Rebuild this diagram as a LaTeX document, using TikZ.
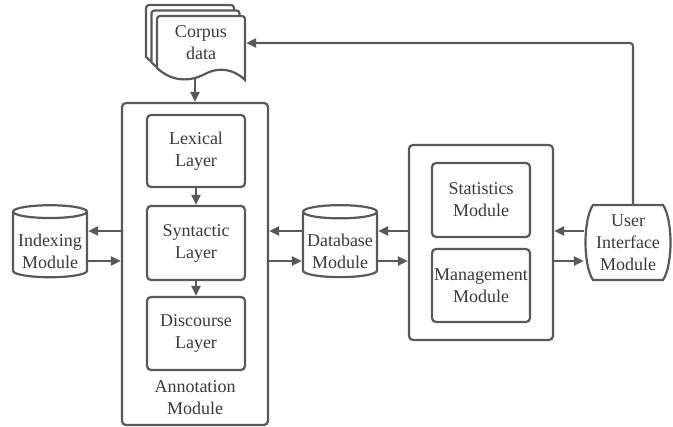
\documentclass[tikz,border=0pt]{standalone}
\usepackage{fontspec}
\setmainfont{Liberation Serif}
\usetikzlibrary{arrows.meta,shapes.geometric,backgrounds}
\definecolor{linegray}{HTML}{595959}
\definecolor{textgray}{HTML}{3A3A3A}
\def\ux{1pt}
\def\uy{-1pt}

\begin{document}
\begin{tikzpicture}[x=\ux,y=\uy, line width=2.2pt, font=\fontsize{18}{22}\selectfont,
    box/.style={draw=linegray, rounded corners=4pt, align=center, text=textgray, inner sep=0pt},
    db/.style={cylinder, shape border rotate=90, aspect=0.2, draw=linegray, fill=white, align=center,
      text=textgray, minimum width=74pt, minimum height=72pt, inner sep=0pt},
    lbl/.style={align=center, text=textgray, inner sep=0pt},
    arr/.style={draw=linegray, line width=2.2pt, -{Triangle[length=10pt,width=9pt]}}]
    \useasboundingbox (0,0) rectangle (673,427);

    % corpus documents
    \foreach \d in {11,5.5,0}{
      \draw[linegray, fill=white, shift={(-\d,-\d)}] (157,68) [rounded corners=3pt] -- (157,16) -- (245,16)
        [sharp corners] -- (245,80) .. controls (235,70) and (220,66) .. (205,74)
        .. controls (190,82) and (172,82) .. (157,68) -- cycle;
    }
    \node[lbl, minimum width=88pt, minimum height=60pt] (corpus) at (201,43) {Corpus\\data};

    % annotation module
    \node[box, minimum width=146pt, minimum height=322pt] (annot) at (195,264) {};
    \node[lbl] (annottxt) at (195,398) {Annotation\\Module};
    \node[box, minimum width=98pt, minimum height=72pt] (lex) at (196,151) {Lexical\\Layer};
    \node[box, minimum width=98pt, minimum height=74pt] (syn) at (196,243) {Syntactic\\Layer};
    \node[box, minimum width=98pt, minimum height=73pt] (dis) at (196,333.5) {Discourse\\Layer};

    % databases
    \node[db] (idx) at (50,245) {\rule{0pt}{26pt}Indexing\\Module};
    \node[db] (dbm) at (340,245) {\rule{0pt}{26pt}Database\\Module};

    % right side
    \node[box, minimum width=144pt, minimum height=195pt] (mbox) at (481,242.5) {};
    \node[box, minimum width=98pt, minimum height=74pt] (stat) at (481,200) {Statistics\\Module};
    \node[box, minimum width=98pt, minimum height=73pt] (mgmt) at (481,285.5) {Management\\Module};

    \node[lbl, minimum width=86pt, minimum height=75pt] (ui) at (628,242.5) {User\\Interface\\Module};
    \draw[linegray] (593,205) -- (663,205) .. controls (673,220) and (673,265) .. (663,280)
      -- (593,280) .. controls (583,265) and (583,220) .. (593,205) -- cycle;

    % connectors
    \coordinate (hi) at (0,231);
    \coordinate (lo) at (0,261);
    \begin{pgfonlayer}{background}
      \draw[arr] (annot.north |- corpus.center) -- (annot.north);
    \end{pgfonlayer}
    \draw[arr] (lex.south) -- (syn.north);
    \draw[arr] (syn.south) -- (dis.north);
    \draw[arr] (annot.west |- hi) -- (idx.east |- hi);
    \draw[arr] (idx.east |- lo) -- (annot.west |- lo);
    \draw[arr] (dbm.west |- hi) -- (annot.east |- hi);
    \draw[arr] (annot.east |- lo) -- (dbm.west |- lo);
    \draw[arr] (mbox.west |- hi) -- (dbm.east |- hi);
    \draw[arr] (dbm.east |- lo) -- (mbox.west |- lo);
    \draw[arr] (ui.west |- hi) -- (mbox.east |- hi);
    \draw[arr] (mbox.east |- lo) -- (ui.west |- lo);
    \draw[arr, rounded corners=3pt] ([xshift=5pt]ui.north) |- (corpus.east);
\end{tikzpicture}
\end{document}
